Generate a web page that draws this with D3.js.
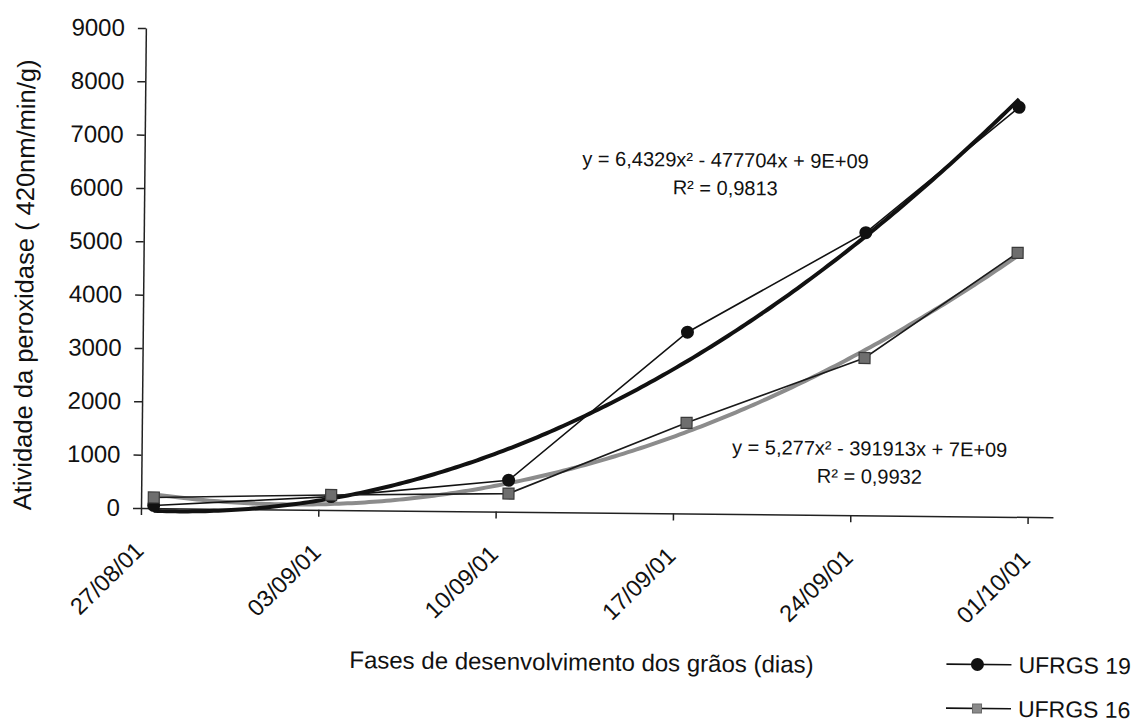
<!DOCTYPE html>
<html>
<head>
<meta charset="utf-8">
<script src="https://cdn.jsdelivr.net/npm/d3@7"></script>
<style>
  body { margin: 0; background: #fff; }
  svg { display: block; }
  text { font-family: "Liberation Sans", Arial, sans-serif; fill: #111; }
</style>
</head>
<body>
<svg id="chart" width="1138" height="723"></svg>
<script>
// Sampling dates (grain development phases)
const sampleDates = ["2001-08-27", "2001-09-03", "2001-09-10", "2001-09-17", "2001-09-24", "2001-09-30"];
// Weekly axis ticks
const tickDates = ["2001-08-27", "2001-09-03", "2001-09-10", "2001-09-17", "2001-09-24", "2001-10-01"];
// Peroxidase activity (420nm/min/g) per cultivar
const ufrgs19 = [50, 250, 590, 3400, 5300, 7680];
const ufrgs16 = [200, 280, 340, 1700, 2950, 4950];
const seriesNames = ["UFRGS 19", "UFRGS 16"];
const yTicks = [0, 1000, 2000, 3000, 4000, 5000, 6000, 7000, 8000, 9000];
const trendText19 = ["y = 6,4329x² - 477704x + 9E+09", "R² = 0,9813"];
const trendText16 = ["y = 5,277x² - 391913x + 7E+09", "R² = 0,9932"];
const xTitle = "Fases de desenvolvimento dos grãos (dias)";
const yTitle = "Atividade da peroxidase ( 420nm/min/g)";

const DAY = 86400000;
const parse = d3.utcParse("%Y-%m-%d");
const dates = sampleDates.map(parse);
const ticks = tickDates.map(parse);
const fmt = d3.utcFormat("%d/%m/%y");

const svg = d3.select("#chart");
const ox = 141, oy = 508;
// the whole figure sits at a slight tilt
const root = svg.append("g").attr("transform", `rotate(0.58,${ox},${oy})`);

const x = d3.scaleUtc()
  .domain([ticks[0], new Date(+ticks[ticks.length - 1] + DAY)])
  .range([ox, 1053]);
const y = d3.scaleLinear().domain([0, 9000]).range([oy, 28]);

// each date occupies a one-day slot; points sit mid-slot
const px = (d) => x(new Date(+d + DAY / 2));

// axes
const yAxis = root.append("g").attr("transform", `translate(${ox},0)`)
  .call(d3.axisLeft(y).tickValues(yTicks).tickFormat(d3.format("d"))
    .tickSize(8).tickPadding(13).tickSizeOuter(0));
yAxis.selectAll("text").style("font-size", "24px");

const xAxis = root.append("g").attr("transform", `translate(0,${oy})`)
  .call(d3.axisBottom(x).tickValues(ticks).tickSize(7).tickSizeOuter(0).tickFormat(fmt));
xAxis.selectAll("text")
  .style("font-size", "23.5px")
  .attr("text-anchor", "end")
  .attr("x", 0).attr("y", 0).attr("dy", 0)
  .attr("transform", "translate(4,44) rotate(-45)");
root.selectAll(".domain, .tick line").attr("stroke", "#222").attr("stroke-width", 1.5);

// least-squares quadratic on day offsets
function quadFit(vals) {
  const t = dates.map(d => (d - dates[0]) / DAY);
  const S = [0, 0, 0, 0, 0], T = [0, 0, 0];
  t.forEach((ti, i) => {
    for (let k = 0; k < 5; k++) S[k] += Math.pow(ti, k);
    for (let k = 0; k < 3; k++) T[k] += vals[i] * Math.pow(ti, k);
  });
  const M = [[S[0], S[1], S[2], T[0]], [S[1], S[2], S[3], T[1]], [S[2], S[3], S[4], T[2]]];
  for (let i = 0; i < 3; i++) {
    for (let j = i + 1; j < 3; j++) {
      const f = M[j][i] / M[i][i];
      for (let k = i; k < 4; k++) M[j][k] -= f * M[i][k];
    }
  }
  const c = [0, 0, 0];
  for (let i = 2; i >= 0; i--) {
    let s = M[i][3];
    for (let k = i + 1; k < 3; k++) s -= M[i][k] * c[k];
    c[i] = s / M[i][i];
  }
  const tEnd = t[t.length - 1];
  return d3.range(0, 201).map(i => {
    const tt = tEnd * i / 200;
    return [px(new Date(+dates[0] + tt * DAY)), y(c[0] + c[1] * tt + c[2] * tt * tt)];
  });
}

const line = d3.line();
root.append("path").attr("d", line(quadFit(ufrgs16)))
  .attr("fill", "none").attr("stroke", "#8c8c8c").attr("stroke-width", 4);
root.append("path").attr("d", line(quadFit(ufrgs19)))
  .attr("fill", "none").attr("stroke", "#111").attr("stroke-width", 4);

// data series
const seriesLine = d3.line().x((d, i) => px(dates[i])).y(d => y(d));
root.append("path").attr("d", seriesLine(ufrgs19))
  .attr("fill", "none").attr("stroke", "#111").attr("stroke-width", 1.6);
root.append("path").attr("d", seriesLine(ufrgs16))
  .attr("fill", "none").attr("stroke", "#1a1a1a").attr("stroke-width", 1.6);

root.selectAll(".m19").data(ufrgs19).join("circle")
  .attr("cx", (d, i) => px(dates[i])).attr("cy", d => y(d)).attr("r", 6.5).attr("fill", "#111");
root.selectAll(".m16").data(ufrgs16).join("rect")
  .attr("x", (d, i) => px(dates[i]) - 5.5).attr("y", d => y(d) - 5.5)
  .attr("width", 11).attr("height", 11)
  .attr("fill", "#6e6e6e").attr("stroke", "#3a3a3a").attr("stroke-width", 1.2);

// trendline equations
function eq(lines, cx, by) {
  const g = root.append("g");
  lines.forEach((s, i) => g.append("text").attr("x", cx).attr("y", by + i * 28)
    .attr("text-anchor", "middle").style("font-size", "20px").text(s));
}
eq(trendText19, 722, 161);
eq(trendText16, 869, 448);

// axis titles
root.append("text").attr("x", 583).attr("y", 666).attr("text-anchor", "middle")
  .style("font-size", "24px").text(xTitle);
root.append("text").attr("transform", "translate(31,286) rotate(-90)").attr("text-anchor", "middle")
  .style("font-size", "25.5px").text(yTitle);

// legend
const leg = root.append("g");
seriesNames.forEach((name, i) => {
  const ly = 656 + i * 44;
  leg.append("line").attr("x1", 948).attr("x2", 1013).attr("y1", ly).attr("y2", ly)
    .attr("stroke", "#111").attr("stroke-width", 1.6);
  if (i === 0) {
    leg.append("circle").attr("cx", 979).attr("cy", ly).attr("r", 6.5).attr("fill", "#111");
  } else {
    leg.append("rect").attr("x", 974.5).attr("y", ly - 4.5).attr("width", 9).attr("height", 9)
      .attr("fill", "#8a8a8a").attr("stroke", "#6a6a6a");
  }
  leg.append("text").attr("x", 1020).attr("y", ly + 8).style("font-size", "23px").text(name);
});
</script>
</body>
</html>
